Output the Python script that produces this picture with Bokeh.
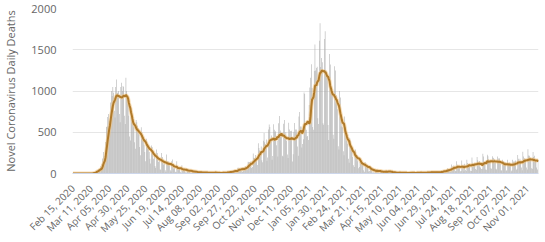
import math
import pandas as pd
from bokeh.plotting import figure
from bokeh.models import FixedTicker, ColumnDataSource, Range1d
from bokeh.embed import file_html
from bokeh.resources import INLINE

# ---------------- data ----------------
start_date = "2020-02-15"

# daily deaths, one value per day starting Feb 15, 2020 (weeks Sat..Fri)
daily_deaths = [
    0, 0, 0, 0, 0, 0, 0,
    0, 0, 0, 0, 0, 0, 0,
    0, 0, 0, 0, 0, 1, 1,
    0, 1, 1, 2, 3, 2, 2,
    11, 14, 20, 16, 33, 40, 33,
    56, 48, 54, 87, 41, 115, 181,
    260, 209, 180, 381, 563, 569, 684,
    720, 640, 520, 860, 1000, 940, 1050,
    980, 760, 680, 1050, 1140, 980, 980,
    1000, 720, 620, 1050, 1100, 1000, 1060,
    1050, 700, 600, 1160, 1000, 950, 900,
    700, 450, 400, 800, 750, 640, 600,
    560, 380, 300, 650, 620, 580, 550,
    470, 320, 220, 560, 500, 450, 420,
    350, 260, 150, 420, 380, 360, 320,
    260, 180, 120, 340, 320, 280, 180,
    210, 90, 70, 290, 250, 210, 140,
    180, 50, 45, 250, 200, 180, 110,
    130, 40, 20, 230, 150, 150, 120,
    100, 40, 25, 150, 170, 90, 55,
    70, 20, 15, 150, 90, 70, 40,
    60, 20, 10, 100, 70, 50, 40,
    40, 15, 10, 65, 50, 40, 25,
    30, 10, 5, 45, 40, 25, 20,
    15, 5, 5, 25, 20, 20, 15,
    10, 5, 3, 20, 20, 15, 11,
    10, 5, 2, 15, 15, 12, 11,
    5, 3, 3, 16, 15, 18, 10,
    12, 2, 1, 3, 10, 12, 16,
    8, 2, 2, 12, 20, 8, 11,
    9, 5, 9, 27, 20, 21, 14,
    27, 18, 11, 37, 37, 40, 34,
    34, 17, 13, 71, 71, 66, 59,
    49, 33, 19, 76, 70, 77, 87,
    81, 65, 50, 143, 137, 138, 136,
    150, 67, 80, 241, 191, 189, 224,
    174, 151, 102, 367, 310, 280, 274,
    326, 162, 136, 397, 492, 378, 355,
    413, 156, 194, 532, 595, 563, 376,
    462, 168, 213, 598, 529, 501, 511,
    341, 398, 206, 608, 696, 498, 521,
    479, 215, 205, 603, 648, 414, 504,
    397, 231, 189, 616, 533, 516, 424,
    519, 144, 232, 506, 612, 532, 489,
    534, 326, 215, 691, 744, 570, 570,
    316, 357, 414, 981, 964, 613, 529,
    445, 454, 407, 830, 1041, 1162, 1325,
    1035, 563, 529, 1243, 1564, 1248, 1280,
    1295, 671, 599, 1610, 1820, 1290, 1401,
    1348, 610, 592, 1631, 1725, 1239, 1245,
    1200, 587, 406, 1449, 1322, 1014, 1014,
    1000, 470, 420, 1300, 1250, 850, 950,
    780, 330, 290, 1000, 920, 570, 660,
    560, 270, 220, 690, 560, 400, 430,
    360, 180, 130, 430, 400, 300, 300,
    200, 100, 80, 240, 290, 230, 220,
    150, 65, 80, 140, 180, 120, 125,
    120, 40, 22, 140, 120, 90, 80,
    72, 24, 29, 70, 56, 64, 13,
    60, 10, 13, 20, 45, 52, 40,
    34, 7, 13, 23, 22, 30, 32,
    27, 10, 4, 33, 29, 22, 32,
    32, 17, 1, 29, 22, 17, 14,
    15, 1, 1, 13, 14, 13, 15,
    12, 5, 4, 11, 9, 11, 17,
    7, 4, 1, 9, 5, 7, 12,
    10, 6, 5, 6, 10, 10, 12,
    6, 8, 0, 6, 12, 18, 11,
    12, 4, 5, 13, 11, 7, 12,
    9, 7, 3, 9, 19, 19, 11,
    14, 6, 5, 27, 16, 23, 18,
    11, 3, 14, 22, 23, 18, 15,
    18, 6, 9, 37, 33, 29, 35,
    34, 6, 19, 50, 63, 49, 51,
    48, 28, 22, 110, 84, 72, 96,
    74, 32, 28, 150, 105, 98, 78,
    75, 28, 29, 158, 99, 106, 28,
    118, 45, 30, 168, 128, 115, 107,
    108, 32, 30, 195, 130, 117, 131,
    120, 56, 46, 200, 161, 115, 153,
    78, 70, 55, 58, 238, 205, 139,
    145, 49, 45, 228, 208, 172, 160,
    162, 63, 58, 209, 192, 185, 172,
    150, 57, 50, 206, 170, 185, 183,
    121, 40, 37, 167, 150, 127, 137,
    136, 33, 38, 166, 126, 127, 133,
    121, 28, 40, 167, 146, 136, 148,
    157, 45, 57, 223, 179, 115, 180,
    135, 72, 40, 263, 207, 186, 178,
    166, 74, 48, 293, 217, 214, 193,
    155, 63, 57, 262, 201, 214, 150,
    157, 72, 47, 165,
]

tick_labels = [
    "Feb 15, 2020", "Mar 11, 2020", "Apr 05, 2020", "Apr 30, 2020", "May 25, 2020",
    "Jun 19, 2020", "Jul 14, 2020", "Aug 08, 2020", "Sep 02, 2020", "Sep 27, 2020",
    "Oct 22, 2020", "Nov 16, 2020", "Dec 11, 2020", "Jan 05, 2021", "Jan 30, 2021",
    "Feb 24, 2021", "Mar 21, 2021", "Apr 15, 2021", "May 10, 2021", "Jun 04, 2021",
    "Jun 29, 2021", "Jul 24, 2021", "Aug 18, 2021", "Sep 12, 2021", "Oct 07, 2021",
    "Nov 01, 2021",
]
tick_step_days = 25
y_ticks = [0, 500, 1000, 1500, 2000]
y_title = "Novel Coronavirus Daily Deaths"

# ---------------- build ----------------
n = len(daily_deaths)
dates = pd.date_range(start_date, periods=n, freq="D")
avg7 = pd.Series(daily_deaths, dtype=float).rolling(7, min_periods=1).mean()

src = ColumnDataSource(dict(
    x=list(range(n)),
    deaths=daily_deaths,
    avg=list(avg7),
    date=[d.strftime("%b %d, %Y") for d in dates],
))

FONT = "Open Sans"
TXT = "#666666"

p = figure(
    width=545, height=242,
    output_backend="svg", toolbar_location=None,
    x_range=Range1d(-0.5, n - 0.5), y_range=Range1d(0, 2000),
    min_border_left=64, min_border_right=7, min_border_top=8, min_border_bottom=67,
)
p.outline_line_color = None
p.background_fill_color = "white"
p.border_fill_color = "white"

p.vbar(x="x", top="deaths", width=0.72, source=src,
       fill_color="#a8a8a8", line_color=None)
p.line(x="x", y="avg", source=src, line_color="#f3c27c", line_width=4, line_alpha=0.55)
p.line(x="x", y="avg", source=src, line_color="#b07a2a", line_width=2)

# grid
p.xgrid.visible = False
p.ygrid.grid_line_color = "#e6e6e6"
p.ygrid.grid_line_width = 1

# y axis
ya = p.yaxis[0]
ya.ticker = FixedTicker(ticks=y_ticks)
ya.axis_line_color = None
ya.major_tick_line_color = None
ya.minor_tick_line_color = None
ya.major_label_standoff = 10
ya.major_label_text_font = FONT
ya.major_label_text_font_size = "11px"
ya.major_label_text_color = TXT
ya.axis_label = y_title
ya.axis_label_text_font = FONT
ya.axis_label_text_font_size = "11px"
ya.axis_label_text_font_style = "normal"
ya.axis_label_text_color = TXT
ya.axis_label_standoff = 10

# x axis
xa = p.xaxis[0]
tick_pos = [i * tick_step_days for i in range(len(tick_labels))]
xa.ticker = FixedTicker(ticks=tick_pos)
xa.major_label_overrides = {pos: lab for pos, lab in zip(tick_pos, tick_labels)}
xa.major_label_orientation = math.pi / 4
xa.axis_line_color = "#ccd6eb"
xa.major_tick_line_color = None
xa.minor_tick_line_color = None
xa.major_label_standoff = 7
xa.major_label_text_font = FONT
xa.major_label_text_font_size = "10px"
xa.major_label_text_color = TXT

open("out.html", "w").write(file_html(p, INLINE))
